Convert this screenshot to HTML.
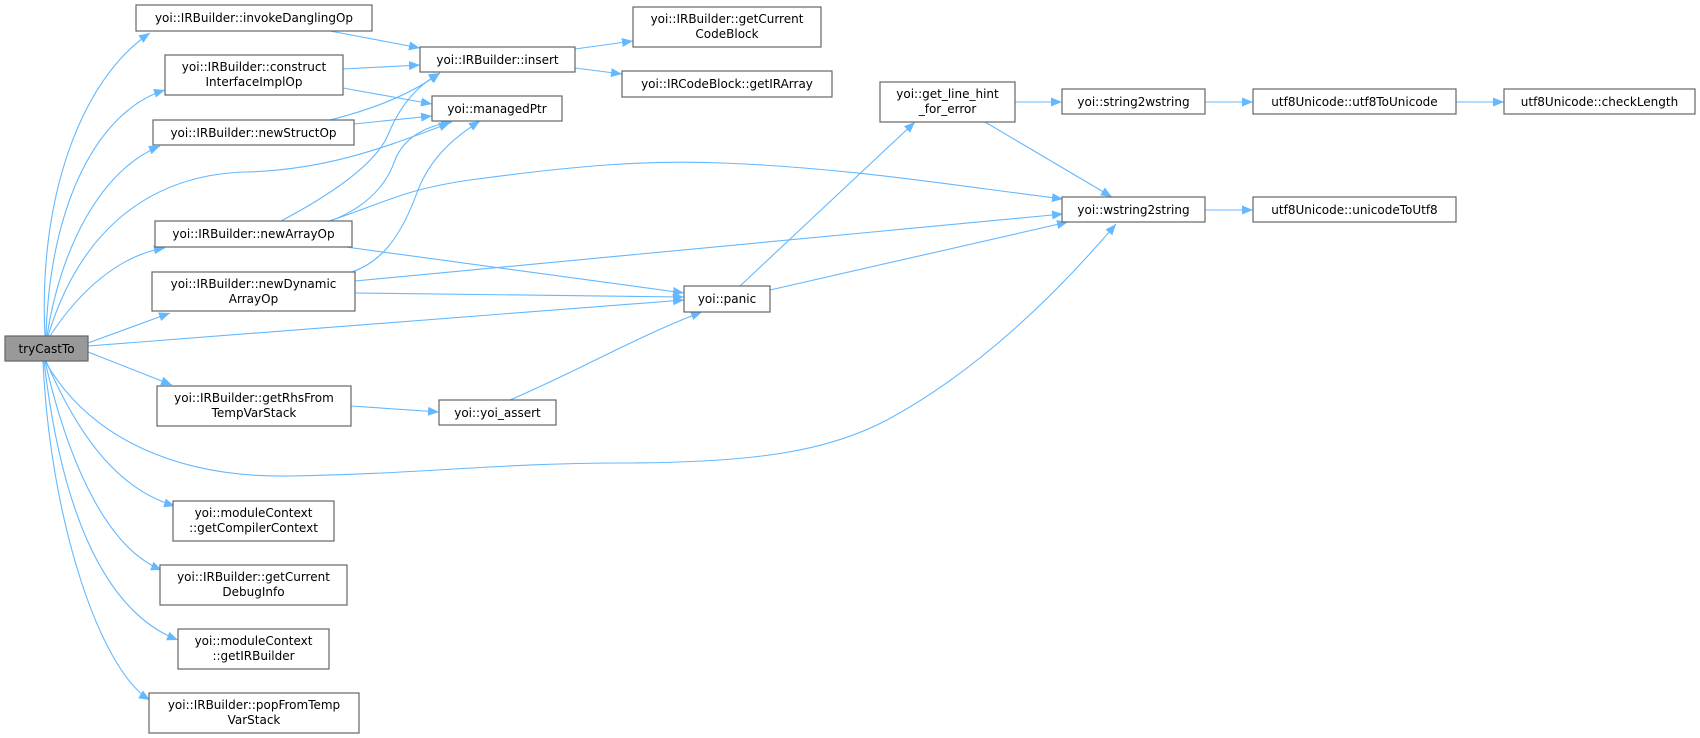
<!DOCTYPE html>
<html><head><meta charset="utf-8"><style>
html,body{margin:0;padding:0;background:#fff;}
svg{display:block;}
text{font-family:"DejaVu Sans","Liberation Sans",sans-serif;font-size:12px;fill:#000;}
.b{fill:#fff;stroke:#666;stroke-width:1.2;}
.e{fill:none;stroke:#63b8ff;stroke-width:1.1;}
</style></head><body>
<svg width="1700" height="738" viewBox="0 0 1700 738" xmlns="http://www.w3.org/2000/svg">
<defs>
<marker id="a" markerUnits="userSpaceOnUse" markerWidth="12" markerHeight="10" refX="11" refY="4.5" orient="auto">
<path d="M0,0 L11,4.5 L0,9 z" fill="#63b8ff"/>
</marker>
</defs>
<g class="e" marker-end="url(#a)">
<path d="M45,336 C38,200 80,80 150,33"/>
<path d="M46,336 C50,200 100,110 165,90"/>
<path d="M47,336 C60,250 100,170 160,146"/>
<path d="M48,336 C80,230 150,175 245,172 C330,170 390,145 450,123"/>
<path d="M50,336 C80,290 120,255 165,248"/>
<path d="M88,343 L170,313"/>
<path d="M88,346 L684,300"/>
<path d="M88,352 L172,385"/>
<path d="M45,361 C90,440 180,478 290,476 C420,474 500,463 620,463 C760,463 830,450 887,420 C980,370 1060,290 1116,224"/>
<path d="M46,361 C80,440 120,490 175,506"/>
<path d="M45,361 C70,470 110,550 162,570"/>
<path d="M44,361 C60,500 100,610 178,640"/>
<path d="M43,361 C50,520 100,670 150,700"/>
<path d="M330,31 L420,48"/>
<path d="M343,69 L420,65"/>
<path d="M343,88 L432,104"/>
<path d="M330,120 C370,110 410,95 440,73"/>
<path d="M354,124 L432,116"/>
<path d="M281,221 C330,195 375,165 388,135 C400,105 418,85 440,73"/>
<path d="M330,221 C360,210 385,190 395,160 C405,135 430,125 452,122"/>
<path d="M329,221 C380,205 400,190 470,180 C580,165 650,160 722,163 C850,168 950,185 1063,199"/>
<path d="M346,247 L684,293"/>
<path d="M352,272 C380,262 400,240 418,190 C430,160 450,140 480,121"/>
<path d="M355,281 L1063,214"/>
<path d="M355,293 L684,297"/>
<path d="M740,286 L915,122"/>
<path d="M770,290 L1068,222"/>
<path d="M1015,102 L1062,102"/>
<path d="M985,122 L1112,197"/>
<path d="M575,49 L633,41"/>
<path d="M575,68 L622,74"/>
<path d="M351,406 L439,412"/>
<path d="M510,400 C580,370 640,335 702,312"/>
<path d="M1205,102 L1253,102"/>
<path d="M1456,102 L1504,102"/>
<path d="M1205,210 L1253,210"/>
</g>
<g text-anchor="middle">
<rect x="5" y="336" width="83" height="25" fill="#999" stroke="#666" stroke-width="1.2"/><text x="46.5" y="353">tryCastTo</text>
<rect class="b" x="136" y="5" width="236" height="26"/><text x="254" y="22">yoi::IRBuilder::invokeDanglingOp</text>
<rect class="b" x="165" y="55" width="178" height="40"/><text x="254" y="71">yoi::IRBuilder::construct</text><text x="254" y="86">InterfaceImplOp</text>
<rect class="b" x="153" y="120" width="201" height="25"/><text x="253.5" y="137">yoi::IRBuilder::newStructOp</text>
<rect class="b" x="155" y="221" width="197" height="26"/><text x="253.5" y="238">yoi::IRBuilder::newArrayOp</text>
<rect class="b" x="152" y="272" width="203" height="39"/><text x="253.5" y="288">yoi::IRBuilder::newDynamic</text><text x="253.5" y="303">ArrayOp</text>
<rect class="b" x="157" y="386" width="194" height="40"/><text x="254" y="402">yoi::IRBuilder::getRhsFrom</text><text x="254" y="417">TempVarStack</text>
<rect class="b" x="173" y="501" width="161" height="40"/><text x="253.5" y="517">yoi::moduleContext</text><text x="253.5" y="532">::getCompilerContext</text>
<rect class="b" x="160" y="565" width="187" height="40"/><text x="253.5" y="581">yoi::IRBuilder::getCurrent</text><text x="253.5" y="596">DebugInfo</text>
<rect class="b" x="178" y="629" width="151" height="40"/><text x="253.5" y="645">yoi::moduleContext</text><text x="253.5" y="660">::getIRBuilder</text>
<rect class="b" x="149" y="693" width="210" height="40"/><text x="254" y="709">yoi::IRBuilder::popFromTemp</text><text x="254" y="724">VarStack</text>
<rect class="b" x="420" y="47" width="155" height="25"/><text x="497.5" y="64">yoi::IRBuilder::insert</text>
<rect class="b" x="432" y="96" width="130" height="25"/><text x="497" y="113">yoi::managedPtr</text>
<rect class="b" x="439" y="400" width="117" height="25"/><text x="497.5" y="417">yoi::yoi_assert</text>
<rect class="b" x="633" y="7" width="188" height="40"/><text x="727" y="23">yoi::IRBuilder::getCurrent</text><text x="727" y="38">CodeBlock</text>
<rect class="b" x="622" y="71" width="210" height="26"/><text x="727" y="88">yoi::IRCodeBlock::getIRArray</text>
<rect class="b" x="684" y="286" width="86" height="26"/><text x="727" y="303">yoi::panic</text>
<rect class="b" x="880" y="82" width="135" height="40"/><text x="947.5" y="98">yoi::get_line_hint</text><text x="947.5" y="113">_for_error</text>
<rect class="b" x="1062" y="89" width="143" height="25"/><text x="1133.5" y="106">yoi::string2wstring</text>
<rect class="b" x="1062" y="197" width="143" height="25"/><text x="1133.5" y="214">yoi::wstring2string</text>
<rect class="b" x="1253" y="89" width="203" height="25"/><text x="1354.5" y="106">utf8Unicode::utf8ToUnicode</text>
<rect class="b" x="1253" y="197" width="203" height="25"/><text x="1354.5" y="214">utf8Unicode::unicodeToUtf8</text>
<rect class="b" x="1504" y="89" width="191" height="25"/><text x="1599.5" y="106">utf8Unicode::checkLength</text>
</g>
</svg>
</body></html>
